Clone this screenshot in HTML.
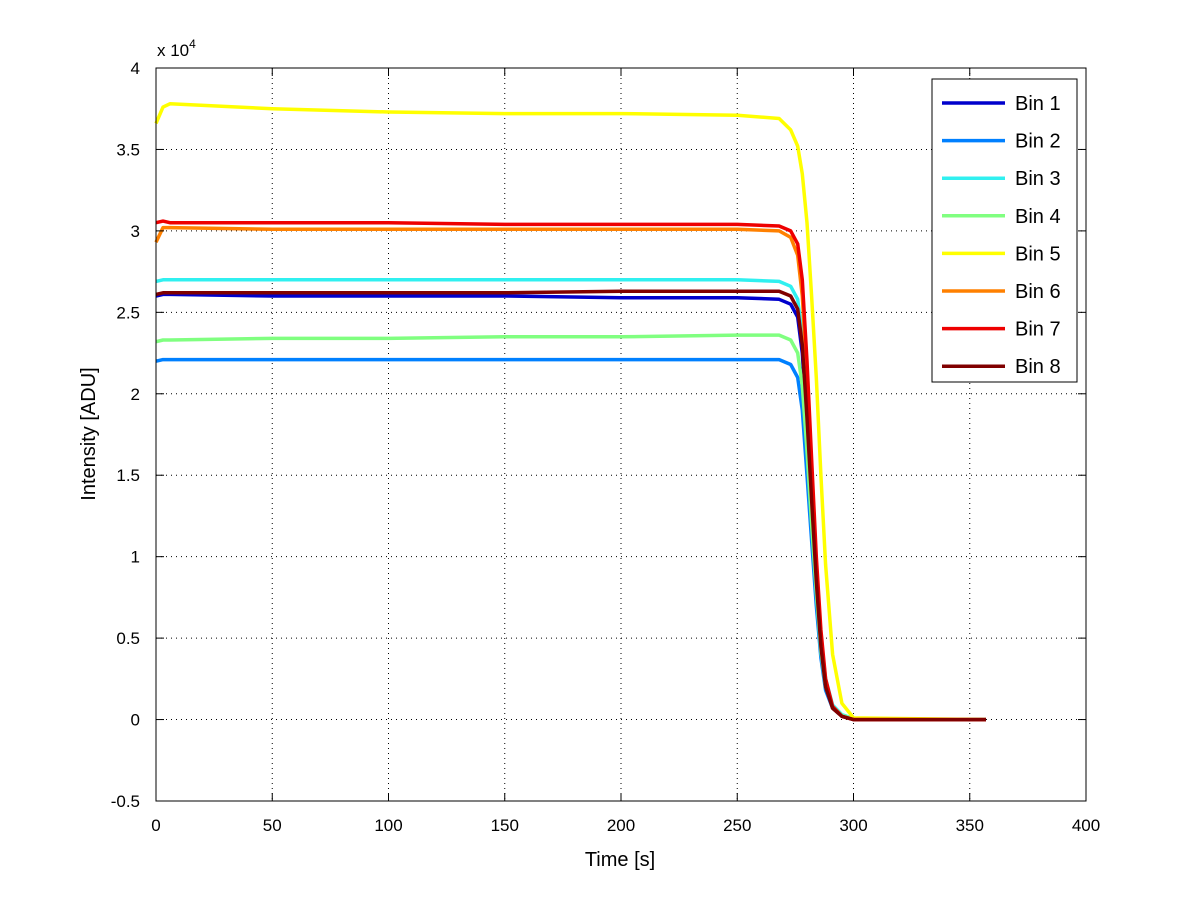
<!DOCTYPE html>
<html><head><meta charset="utf-8"><style>
body{margin:0;background:#fff;}
svg{display:block;font-family:"Liberation Sans",sans-serif;}
</style></head><body>
<svg id="chart" width="1200" height="901">
<rect x="0" y="0" width="1200" height="901" fill="#fff"/>
<g id="grid"></g>
<g id="series"></g>
<rect x="156" y="68" width="930" height="733" fill="none" stroke="#000" stroke-width="1"/>
<g id="ticks"></g>
<text x="157" y="56" font-size="17">x 10<tspan dy="-8" font-size="12">4</tspan></text>
<text x="620" y="866" font-size="20" text-anchor="middle">Time [s]</text>
<text transform="translate(95,434) rotate(-90)" font-size="20" text-anchor="middle">Intensity [ADU]</text>
<g id="legend"></g>
</svg>
<script>
const xTicks=[0,50,100,150,200,250,300,350,400];
const yTicks=[-0.5,0,0.5,1,1.5,2,2.5,3,3.5,4];
const binNames=["Bin 1","Bin 2","Bin 3","Bin 4","Bin 5","Bin 6","Bin 7","Bin 8"];
const times=[0,3,6,50,100,150,200,250,268,273,276,278,280,282,284,286,288,291,295,300,357];
const bin1=[2.60,2.61,2.61,2.60,2.60,2.60,2.59,2.59,2.58,2.55,2.47,2.25,1.8,1.3,0.82,0.43,0.2,0.07,0.02,0,0];
const bin2=[2.20,2.21,2.21,2.21,2.21,2.21,2.21,2.21,2.21,2.18,2.1,1.9,1.5,1.1,0.7,0.38,0.18,0.07,0.02,0,0];
const bin3=[2.69,2.70,2.70,2.70,2.70,2.70,2.70,2.70,2.69,2.66,2.58,2.35,1.9,1.4,0.9,0.5,0.25,0.09,0.03,0.005,0];
const bin4=[2.32,2.33,2.33,2.34,2.34,2.35,2.35,2.36,2.36,2.33,2.25,2.05,1.65,1.2,0.78,0.42,0.2,0.08,0.025,0.005,0];
const bin5=[3.66,3.76,3.78,3.75,3.73,3.72,3.72,3.71,3.69,3.62,3.52,3.35,3.05,2.6,2.1,1.5,0.95,0.4,0.1,0.01,0];
const bin6=[2.93,3.02,3.02,3.01,3.01,3.01,3.01,3.01,3.0,2.96,2.85,2.6,2.1,1.5,0.95,0.5,0.22,0.07,0.02,0,0];
const bin7=[3.05,3.06,3.05,3.05,3.05,3.04,3.04,3.04,3.03,3.0,2.92,2.7,2.2,1.6,1.0,0.55,0.25,0.08,0.02,0,0];
const bin8=[2.61,2.62,2.62,2.62,2.62,2.62,2.63,2.63,2.63,2.60,2.52,2.3,1.85,1.35,0.85,0.45,0.2,0.07,0.02,0,0];
const allBins=[bin1,bin2,bin3,bin4,bin5,bin6,bin7,bin8];
const colors=["#0000cc","#0080ff","#30f0f0","#80ff80","#ffff00","#ff8000","#ee0000","#800000"];
const NS="http://www.w3.org/2000/svg";
const X0=156,X1=1086,Y0=801,Y1=68;
function sx(t){return X0+(t-0)/(400-0)*(X1-X0);}
function sy(v){return Y0-(v+0.5)/(4.5)*(Y0-Y1);}
function mk(tag,attrs,parent){const e=document.createElementNS(NS,tag);for(const k in attrs)e.setAttribute(k,attrs[k]);parent.appendChild(e);return e;}
const grid=document.getElementById('grid'),ticks=document.getElementById('ticks');
xTicks.forEach(t=>{
  const x=sx(t);
  if(t>0&&t<400){const g=mk('line',{x1:x,y1:Y1,x2:x,y2:Y0,stroke:'#000','stroke-width':1,'stroke-dasharray':'1,4'},grid);
  
  }
  const tx=mk('text',{x:x,y:831,'font-size':17,'text-anchor':'middle'},ticks);
  tx.textContent=t;
  
  
  mk('line',{x1:x,y1:Y0,x2:x,y2:Y0-8,stroke:'#000'},ticks);
  mk('line',{x1:x,y1:Y1,x2:x,y2:Y1+8,stroke:'#000'},ticks);
});
yTicks.forEach(v=>{
  const y=sy(v);
  if(v>-0.5&&v<4){const g=mk('line',{x1:X0,y1:y,x2:X1,y2:y,stroke:'#000','stroke-width':1,'stroke-dasharray':'1,4'},grid);
  
  }
  const tx=mk('text',{x:140,y:y+6,'font-size':17,'text-anchor':'end'},ticks);
  tx.textContent=v;
  
  
  mk('line',{x1:X0,y1:y,x2:X0+8,y2:y,stroke:'#000'},ticks);
  mk('line',{x1:X1,y1:y,x2:X1-8,y2:y,stroke:'#000'},ticks);
});
const sg=document.getElementById('series');
allBins.forEach((vals,i)=>{
  const d=vals.map((v,j)=>(j?'L':'M')+sx(times[j]).toFixed(1)+','+sy(v).toFixed(1)).join(' ');
  const p=mk('path',{d:d,fill:'none',stroke:colors[i],'stroke-width':3.5,'stroke-linejoin':'round'},sg);
  
  
});
const lg=document.getElementById('legend');
const box=mk('rect',{x:932,y:79,width:145,height:303,fill:'#fff',stroke:'#000'},lg);


binNames.forEach((n,i)=>{
  const y=103+i*37.6;
  const g=mk('g',{},lg);
  
  
  mk('line',{x1:942,y1:y,x2:1005,y2:y,stroke:colors[i],'stroke-width':3.5},g);
  const t=mk('text',{x:1015,y:y+7,'font-size':20},g);
  t.textContent=n;
});
</script>
</body></html>
